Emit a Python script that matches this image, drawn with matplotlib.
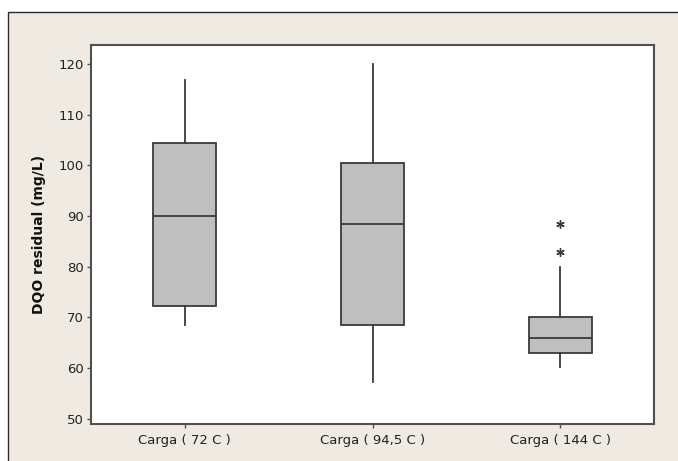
import matplotlib
matplotlib.use("Agg")
import matplotlib.pyplot as plt
from matplotlib.patches import Rectangle

# values (mg/L)
labels = ["Carga ( 72 C )", "Carga ( 94,5 C )", "Carga ( 144 C )"]
whis_low = [68.6, 57.2, 60.2]
q1 = [72.3, 68.6, 62.9]
medians = [90.0, 88.4, 66.0]
q3 = [104.3, 100.5, 70.0]
whis_high = [116.8, 120.0, 80.0]
outliers = [[], [], [82.9, 88.4]]

stats = []
for i in range(len(labels)):
    stats.append({
        "label": labels[i],
        "whislo": whis_low[i],
        "q1": q1[i],
        "med": medians[i],
        "q3": q3[i],
        "whishi": whis_high[i],
        "fliers": outliers[i],
    })

W, H = 678, 461
fig = plt.figure(figsize=(W / 100, H / 100), dpi=100)
fig.patch.set_facecolor("white")

# beige outer frame (Minitab style)
frame = Rectangle((8 / W, -0.1), 1.2, (H - 12) / H + 0.1, transform=fig.transFigure,
                  facecolor="#efebe2", edgecolor="#2a2a2a", lw=1.0, zorder=-1)
fig.patches.append(frame)

ax = fig.add_axes([91 / W, (H - 424) / H, (654 - 91) / W, (424 - 45) / H])
ax.set_facecolor("white")

dark = "#3a3a3a"
ax.bxp(stats, positions=[1, 2, 3], widths=0.336, patch_artist=True, showcaps=False,
       boxprops=dict(facecolor="#bfbfbf", edgecolor=dark, linewidth=1.3),
       medianprops=dict(color=dark, linewidth=1.3),
       whiskerprops=dict(color=dark, linewidth=1.3),
       flierprops=dict(marker=(6, 2, 0), markersize=6, markeredgecolor=dark,
                       markerfacecolor=dark, markeredgewidth=1.0, linestyle="none"))

ax.set_xlim(0.5, 3.5)
ax.set_ylim(49.0, 123.7)
ax.set_yticks(range(50, 121, 10))
ax.set_xticks([1, 2, 3])
ax.set_xticklabels(labels)

for s in ax.spines.values():
    s.set_color("#505050")
    s.set_linewidth(1.5)

ax.tick_params(axis="both", direction="out", length=3, width=1, color="#505050",
               labelsize=9.5, labelcolor="#222222", pad=2)
ax.tick_params(axis="x", pad=4)
ax.set_ylabel("DQO residual (mg/L)", fontsize=10, fontweight="bold", color="#111111", labelpad=9)

fig.savefig("out.png", dpi=100)
